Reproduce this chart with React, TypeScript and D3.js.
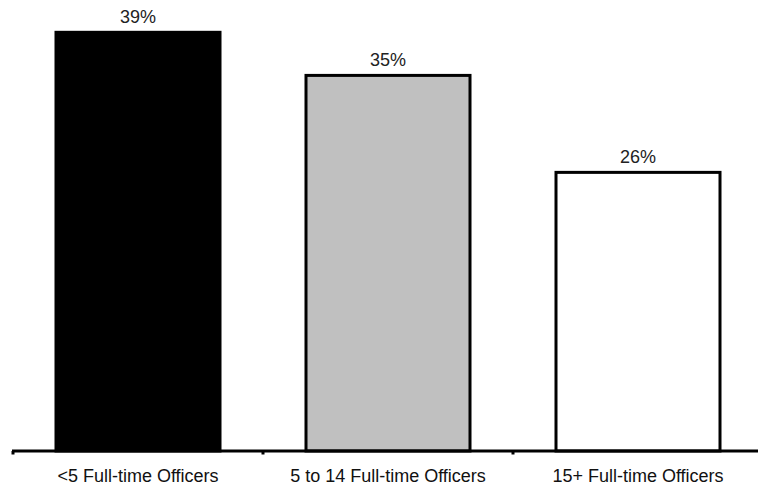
import React from "react";
import * as d3 from "d3";

const categories = ["<5 Full-time Officers", "5 to 14 Full-time Officers", "15+ Full-time Officers"];
const values = [39, 35, 26];
const labels = ["39%", "35%", "26%"];
const fills = ["#000000", "#c0c0c0", "#ffffff"];

const W = 758;
const H = 485;
const baseY = 451;

export default function App() {
  const x = d3
    .scaleBand<string>()
    .domain(categories)
    .range([13, 763])
    .paddingInner(0.332)
    .paddingOuter(0.166);
  const y = d3.scaleLinear().domain([0, 41.86]).range([baseY, 0]);
  const step = x.step();
  const ticks = [0, 1, 2].map((i) => 13 + i * step);

  return (
    <svg
      width={W}
      height={H}
      style={{ position: "absolute", left: 0, top: 0, background: "#fff" }}
      fontFamily="'Liberation Sans', Arial, sans-serif"
    >
      <rect x={0} y={0} width={W} height={H} fill="#fff" />
      {categories.map((c, i) => {
        const x0 = x(c)!;
        const bw = x.bandwidth();
        const top = y(values[i]);
        return (
          <g key={c}>
            <rect
              x={x0 + 1.5}
              y={top + 1.5}
              width={bw - 3}
              height={baseY - top - 1.5}
              fill={fills[i]}
              stroke="#000"
              strokeWidth={3}
            />
            <text
              x={x0 + bw / 2}
              y={top - 8}
              textAnchor="middle"
              fontSize={18}
              fill="#222"
            >
              {labels[i]}
            </text>
            <text
              x={x0 + bw / 2}
              y={481.5}
              textAnchor="middle"
              fontSize={18}
              fill="#111"
            >
              {c}
            </text>
          </g>
        );
      })}
      <line x1={12} x2={W} y1={baseY} y2={baseY} stroke="#000" strokeWidth={3} />
      {ticks.map((t, i) => (
        <line key={i} x1={t} x2={t} y1={baseY} y2={baseY + 3.5} stroke="#000" strokeWidth={3} />
      ))}
    </svg>
  );
}
